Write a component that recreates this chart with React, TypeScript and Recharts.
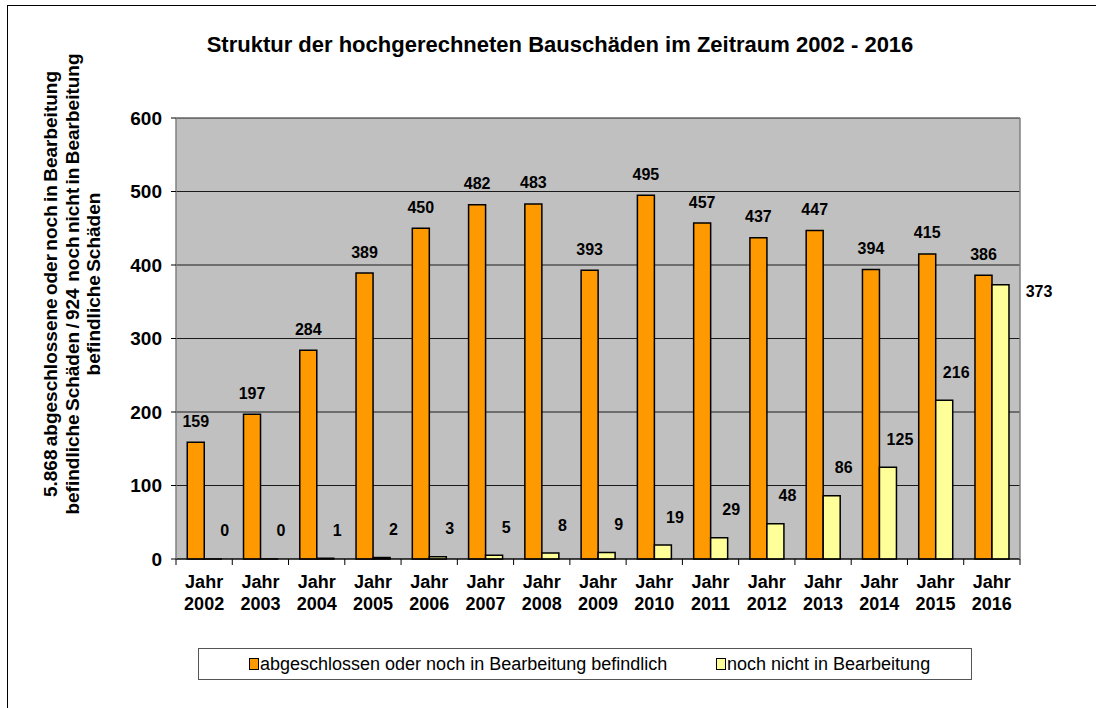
import React from "react";
import { BarChart, Bar, XAxis, YAxis, CartesianGrid, LabelList } from "recharts";

const years = ["2002","2003","2004","2005","2006","2007","2008","2009","2010","2011","2012","2013","2014","2015","2016"];
const done = [159,197,284,389,450,482,483,393,495,457,437,447,394,415,386];
const pending = [0,0,1,2,3,5,8,9,19,29,48,86,125,216,373];
const yTicks = [0,100,200,300,400,500,600];
const seriesNames = ["abgeschlossen oder noch in Bearbeitung befindlich", "noch nicht in Bearbeitung"];
const seriesColors = ["#FF9900", "#FFFF99"];
const title = "Struktur der hochgerechneten Bauschäden im Zeitraum 2002 - 2016";
const yLabelLines = [
  "5.868 abgeschlossene oder noch in Bearbeitung",
  "befindliche Schäden / 924  noch nicht in Bearbeitung",
  "befindliche Schäden",
];

const data = years.map((y, i) => ({ cat: "Jahr " + y, year: y, done: done[i], pending: pending[i] }));

const FONT = "'Liberation Sans', Arial, Helvetica, sans-serif";
const lastYear = years[years.length - 1];

const XTick = (props: any) => {
  const { x, y, payload } = props;
  const half = payload && payload.offset ? payload.offset : 844 / 15 / 2;
  const yr = String(payload.value).replace("Jahr ", "");
  const last = yr === lastYear;
  return (
    <g>
      <line x1={x - half} x2={x - half} y1={y} y2={y + 6} stroke="#000" strokeWidth={1} />
      {last && <line x1={x + half} x2={x + half} y1={y} y2={y + 6} stroke="#000" strokeWidth={1} />}
      <text x={x} y={y + 23} textAnchor="middle" dominantBaseline="central" fontFamily={FONT} fontWeight="bold" fontSize={18} fill="#000">Jahr</text>
      <text x={x} y={y + 45} textAnchor="middle" dominantBaseline="central" fontFamily={FONT} fontWeight="bold" fontSize={18} fill="#000">{yr}</text>
    </g>
  );
};

const DoneLabel = (props: any) => {
  const { x, y, width, value } = props;
  return (
    <text x={x + width / 2} y={y - 21} textAnchor="middle" dominantBaseline="central" fontFamily={FONT} fontWeight="bold" fontSize={16} fill="#000">{value}</text>
  );
};

const PendingLabel = (props: any) => {
  const { x, y, width, height, value } = props;
  const parts = String(value).split("|");
  const yr = parts[0];
  const v = parts[1];
  const last = yr === lastYear;
  const top = height < 0 ? y + height : y;
  const tx = last ? x + width + 30 : x + width / 2 + 12;
  const ty = last ? top + 7 : top - 28;
  return (
    <text x={tx} y={ty} textAnchor="middle" dominantBaseline="central" fontFamily={FONT} fontWeight="bold" fontSize={16} fill="#000">{v}</text>
  );
};

export default function App() {
  return (
    <div style={{ position: "absolute", left: 0, top: 0, width: 1096, height: 708, background: "#fff", overflow: "hidden", fontFamily: FONT }}>
      <div style={{ position: "absolute", left: 7, top: 5, width: 1200, height: 800, borderLeft: "1px solid #000", borderTop: "1px solid #000" }} />
      <div style={{ position: "absolute", left: 0, width: 1120, top: 32, textAlign: "center", fontWeight: "bold", fontSize: 22, lineHeight: "26px", color: "#000" }}>{title}</div>
      <div style={{ position: "absolute", left: 72 - 280, top: 284 - 32, width: 560, height: 64, transform: "rotate(-90deg)", transformOrigin: "50% 50%", textAlign: "center", fontWeight: "bold", fontSize: 19, wordSpacing: -2, lineHeight: "21.5px", color: "#000", whiteSpace: "nowrap" }}>
        {yLabelLines.map((l, i) => <div key={i} style={{ whiteSpace: "pre" }}>{l}</div>)}
      </div>
      <div style={{ position: "absolute", left: 0, top: 0 }}>
        <BarChart width={1096} height={708} data={data} margin={{ top: 118, right: 0, bottom: 109, left: 0 }} barGap={0} barCategoryGap="20%">
          <CartesianGrid yAxisId="l" vertical={false} horizontal={true} fill="#C0C0C0" fillOpacity={1} stroke="#1a1a1a" strokeWidth={1} />
          <XAxis dataKey="cat" height={40} tick={<XTick />} tickLine={false} tickSize={0} tickMargin={0} axisLine={{ stroke: "#000", strokeWidth: 1 }} interval={0} />
          <YAxis yAxisId="l" width={176} domain={[0, 600]} ticks={yTicks} interval={0} tickSize={5} tickMargin={9} tickLine={{ stroke: "#000" }} axisLine={{ stroke: "#808080", strokeWidth: 1.5 }} tick={{ fontFamily: FONT, fontWeight: "bold", fontSize: 19, fill: "#000" }} />
          <YAxis yAxisId="r" orientation="right" width={76} domain={[0, 600]} tick={false} tickLine={false} axisLine={{ stroke: "#808080", strokeWidth: 1.5 }} />
          <Bar yAxisId="l" dataKey="done" name={seriesNames[0]} fill={seriesColors[0]} stroke="#000" strokeWidth={1.5} isAnimationActive={false}>
            <LabelList dataKey="done" content={<DoneLabel />} />
          </Bar>
          <Bar yAxisId="l" dataKey="pending" name={seriesNames[1]} fill={seriesColors[1]} stroke="#000" strokeWidth={1.5} minPointSize={0.01} isAnimationActive={false}>
            <LabelList dataKey={(d: any) => d.year + "|" + d.pending} content={<PendingLabel />} />
          </Bar>
        </BarChart>
      </div>
      <div style={{ position: "absolute", left: 198, top: 648, width: 772, height: 30, border: "1px solid #555", fontSize: 18, color: "#000", background: "#fff" }}>
        {seriesNames.map((n, i) => (
          <div key={i} style={{ display: "flex", alignItems: "center", position: "absolute", top: 4, left: i === 0 ? 50 : 517 }}>
            <span style={{ display: "inline-block", width: 8, height: 10, background: seriesColors[i], border: "1px solid #000", marginRight: 1 }} />
            <span style={{ lineHeight: "22px" }}>{n}</span>
          </div>
        ))}
      </div>
    </div>
  );
}
